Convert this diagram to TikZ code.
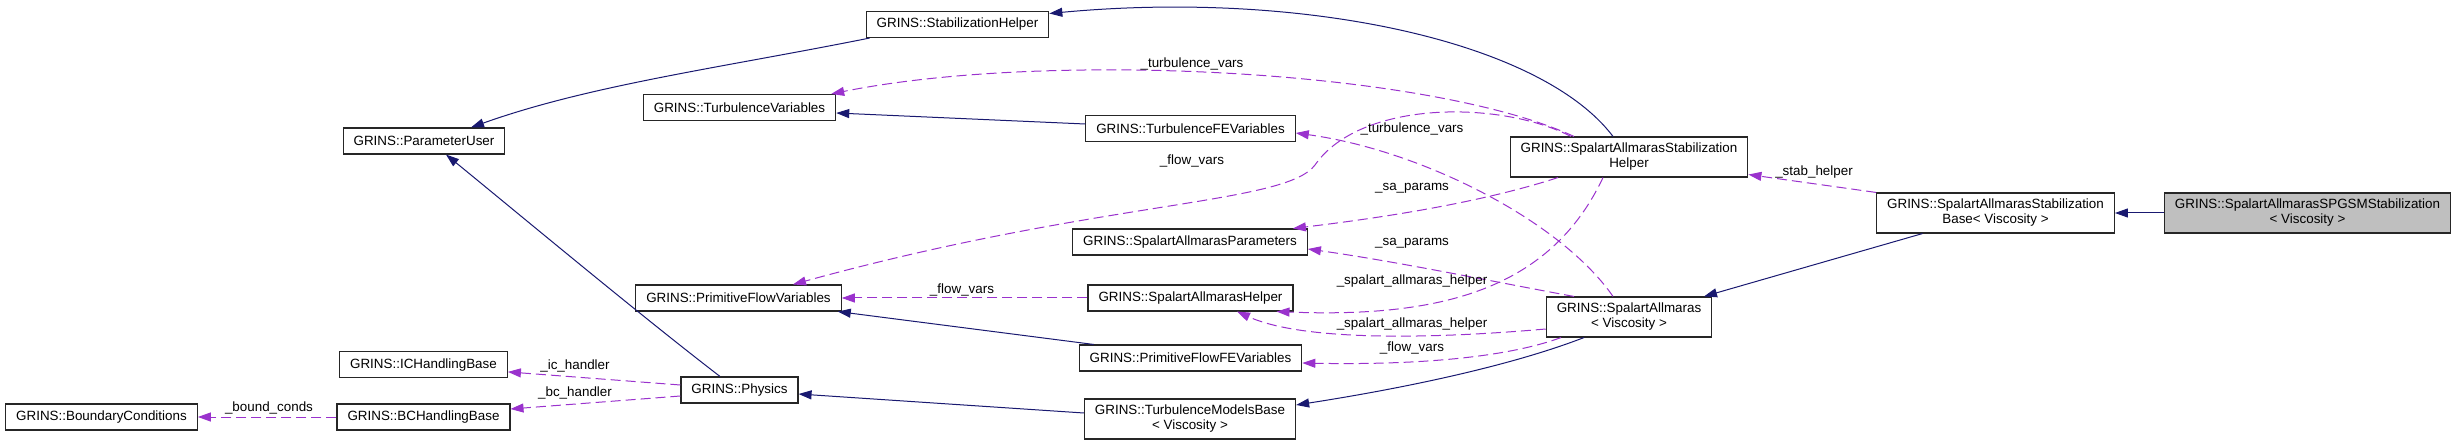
\documentclass[tikz,border=0pt]{standalone}
\usepackage{fontspec}
\setmainfont{Liberation Sans}
\usepackage{xcolor}
\usepackage{tikz}
\usetikzlibrary{arrows.meta,positioning}
\definecolor{dxnavy}{HTML}{191970}
\definecolor{dxorchid}{HTML}{9A32CD}
\definecolor{dxgrey}{HTML}{BFBFBF}
\newcommand{\dxfont}{\fontsize{13.4}{15}\selectfont}
\tikzstyle{cls} = [rectangle, draw=black!85, line width=1.1pt, fill=white,
    minimum height=26pt, inner xsep=10.5pt, inner ysep=2pt, align=center, font=\dxfont]
\tikzstyle{cls2} = [cls, minimum height=40pt]
\tikzstyle{inherit} = [-{Triangle[length=13pt,width=9pt]}, line width=1pt, dxnavy]
\tikzstyle{uses} = [-{Triangle[length=13pt,width=9pt]}, line width=1pt, dxorchid,
    dash pattern=on 10pt off 5pt]
\tikzstyle{lbl} = [font=\dxfont, inner sep=0pt, text=black]

\begin{document}
\begin{tikzpicture}[x=1pt, y=-1pt, node distance=25pt]
\useasboundingbox (0,0) rectangle (2455,446);
\node[cls] (bc) at (101.5,417) {GRINS::BoundaryConditions};
\node[cls] (bch) at (423.5,417) {GRINS::BCHandlingBase};
\node[cls, above=of bch] (ich) {GRINS::ICHandlingBase};
\node[cls] (phys) at (739.5,390) {GRINS::Physics};
\node[cls] (pu) at (424,141) {GRINS::ParameterUser};
\node[cls] (tv) at (739.5,107.5) {GRINS::TurbulenceVariables};
\node[cls] (pfv) at (738.5,298) {GRINS::PrimitiveFlowVariables};
\node[cls] (sh) at (957.5,24.5) {GRINS::StabilizationHelper};
\node[cls] (tfev) at (1190.5,128.5) {GRINS::TurbulenceFEVariables};
\node[cls] (sap) at (1190,242) {GRINS::SpalartAllmarasParameters};
\node[cls] (sah) at (1190.5,298) {GRINS::SpalartAllmarasHelper};
\node[cls] (pffe) at (1190.5,358) {GRINS::PrimitiveFlowFEVariables};
\node[cls2] (tmb) at (1190,419) {GRINS::TurbulenceModelsBase\\< Viscosity >};
\node[cls2] (sash) at (1629,157) {GRINS::SpalartAllmarasStabilization\\Helper};
\node[cls2] (sa) at (1629,317) {GRINS::SpalartAllmaras\\< Viscosity >};
\node[cls2] (sasb) at (1995.5,213) {GRINS::SpalartAllmarasStabilization\\Base< Viscosity >};
\node[cls2, fill=dxgrey, right=49pt of sasb] (spgsm) {GRINS::SpalartAllmarasSPGSMStabilization\\< Viscosity >};

\draw[inherit] ([xshift=4pt]sh.south west) .. controls (720,68) and (590,85) .. ([xshift=47pt]pu.north);
\draw[inherit] ([xshift=-16pt]sash.north) .. controls (1540,40) and (1300,-10) .. ([yshift=11pt]sh.east);
\draw[inherit] ([yshift=4.5pt]tfev.west) -- ([yshift=-5.5pt]tv.east);
\draw[inherit] ([xshift=15pt]pffe.north west) -- ([xshift=-4pt]pfv.south east);
\draw[inherit] ([yshift=6pt]tmb.west) -- ([yshift=-4pt]phys.east);
\draw[inherit] ([xshift=-19.5pt]phys.north) .. controls (640,315) and (520,215) .. ([xshift=22pt]pu.south);
\draw[inherit] ([xshift=-45pt]sa.south) .. controls (1500,370) and (1380,392) .. ([yshift=14pt]tmb.east);
\draw[inherit] ([xshift=-73pt]sasb.south) -- ([xshift=75pt]sa.north);
\draw[inherit] (spgsm) -- (sasb);

\draw[uses] (bch) -- (bc) node[lbl] at (269,408) {\_bound\_conds};
\draw[uses] ([yshift=5pt]phys.west) -- ([yshift=-7pt]ich.east) node[lbl] at (575,366) {\_ic\_handler};
\draw[uses] ([yshift=-6pt]phys.west) -- ([yshift=8pt]bch.east) node[lbl] at (575,393) {\_bc\_handler};
\draw[uses] ([xshift=-55pt]sash.north) .. controls (1430,70) and (1050,50) .. ([xshift=-5pt]tv.north east)
    node[lbl] at (1192,64) {\_turbulence\_vars};
\draw[uses] ([xshift=-16pt]sa.north) .. controls (1560,220) and (1420,150) .. ([yshift=-4.5pt]tfev.east)
    node[lbl] at (1412,129) {\_turbulence\_vars};
\draw[uses] ([xshift=-58pt]sash.north) .. controls (1500,100) and (1360,100) .. (1315,165)
    .. controls (1285,205) and (1100,200) .. ([xshift=54.5pt]pfv.north)
    node[lbl] at (1192,161) {\_flow\_vars};
\draw[uses] ([xshift=-71pt]sash.south) .. controls (1480,203) and (1380,218) .. ([xshift=-15pt]sap.north east)
    node[lbl] at (1412,188) {\_sa\_params};
\draw[uses] ([xshift=-55pt]sa.north) .. controls (1500,283) and (1400,262) .. ([yshift=-7pt]sap.east)
    node[lbl] at (1412,243) {\_sa\_params};
\draw[uses] (sah) -- (pfv) node[lbl] at (962,290) {\_flow\_vars};
\draw[uses] ([xshift=-26pt]sash.south) .. controls (1550,290) and (1440,318) .. ([xshift=-17pt]sah.south east)
    node[lbl] at (1412,281) {\_spalart\_allmaras\_helper};
\draw[uses] ([yshift=-12pt]sa.west) .. controls (1420,340) and (1300,340) .. ([xshift=46.5pt]sah.south)
    node[lbl] at (1412,324) {\_spalart\_allmaras\_helper};
\draw[uses] ([xshift=-68pt]sa.south) .. controls (1500,360) and (1400,365) .. ([yshift=-5pt]pffe.east)
    node[lbl] at (1412,348) {\_flow\_vars};
\draw[uses] (sasb.north west) -- ([yshift=3pt]sash.south east) node[lbl] at (1814,172) {\_stab\_helper};
\end{tikzpicture}
\end{document}
